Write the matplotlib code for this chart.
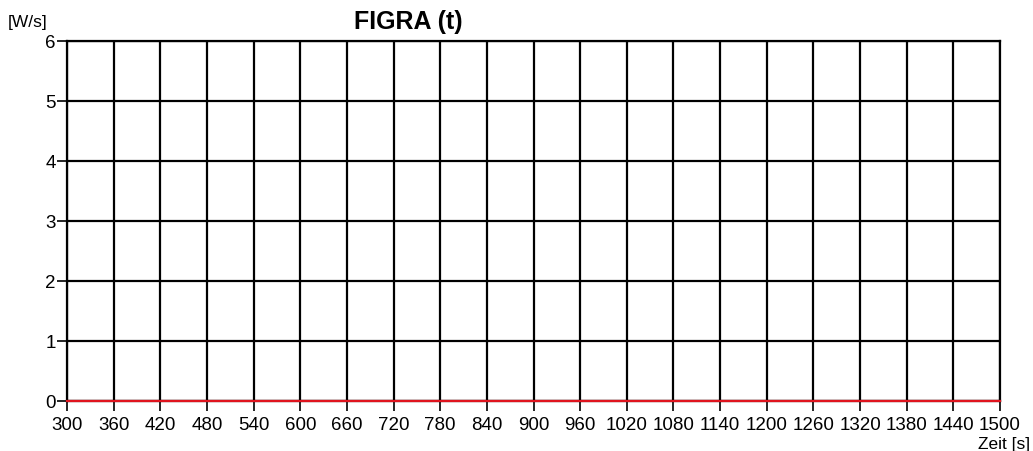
import matplotlib
matplotlib.use("Agg")
import matplotlib.pyplot as plt

plt.rcParams['font.family'] = ['Liberation Sans', 'DejaVu Sans']

# FIGRA curve over time
zeit = [300, 1500]
figra = [0, 0]

x_ticks = list(range(300, 1501, 60))
y_ticks = [0, 1, 2, 3, 4, 5, 6]

W, H = 1033, 452
fig = plt.figure(figsize=(W / 100, H / 100), dpi=100)
ax = fig.add_axes([67 / W, 1 - 402 / H, (1000 - 67) / W, (402 - 42) / H])

ax.set_xlim(300, 1500)
ax.set_ylim(0, 6)
ax.set_xticks(x_ticks)
ax.set_yticks(y_ticks)
ax.grid(True, color='black', linewidth=1.6)
ax.set_axisbelow(True)

ax.plot(zeit, figra, color='#e0141e', linewidth=1.6, zorder=5, clip_on=False)

for s in ax.spines.values():
    s.set_color('black')
    s.set_linewidth(1.6)

ax.tick_params(axis='both', direction='out', length=7, width=1.2,
               colors='black', labelsize=13.5)
ax.tick_params(axis='x', pad=4)
ax.tick_params(axis='y', pad=1)

fig.text(408 / W, 1 - 22 / H, 'FIGRA (t)', fontsize=18, fontweight='bold',
         ha='center', va='center')
fig.text(8 / W, 1 - 22 / H, '[W/s]', fontsize=12.5, ha='left', va='center')
fig.text(1030 / W, 1 - 445 / H, 'Zeit [s]', fontsize=12.5, ha='right', va='center')

fig.savefig('out.png', dpi=100, facecolor='white')
